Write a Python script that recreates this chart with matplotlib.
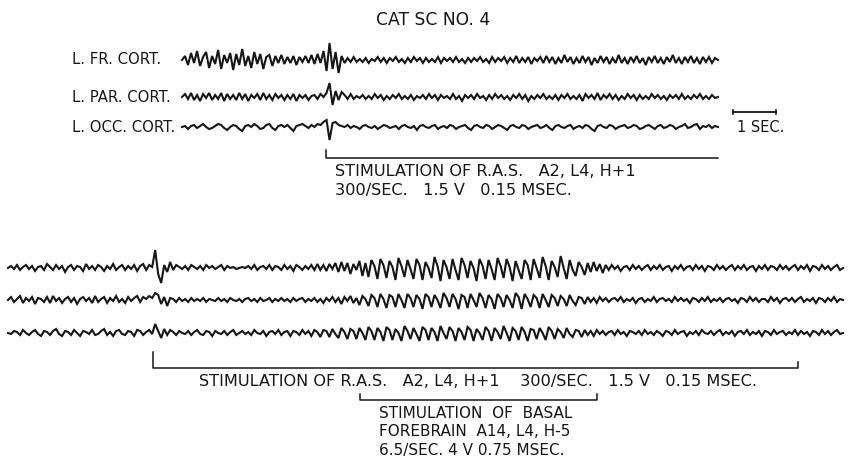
import numpy as np
import matplotlib as mpl
mpl.use('Agg')
import matplotlib.pyplot as plt

# EEG amplitudes (positive = upward deflection), one sample every ~3 px
fr_cort = [0, 4, -5, 7, -3, 9, -6, 3, 8, -8, 4, -4, 10, -9, 5, -3, 7, -10, 6, -5,
           11, -6, 4, -8, 8, -4, 6, -9, 3, 5, -6, 4, -3, 5, -4, 3, -3, 4, -5, 3,
           -2, 4, -3, 5, -4, 6, -3, 9, -11, 17, -9, 8, -13, 4, -3, 2, -2, 3, -2, 1,
           -2, 2, -3, 1, -1, 3, -2, 2, -3, 2, -1, 3, -2, 1, -3, 2, -2, 3, -1, 2,
           -3, 2, -2, 1, -2, 3, -3, 2, -1, 2, -2, 3, -2, 1, -3, 2, -2, 2, -1, 3,
           -2, 1, -3, 3, -2, 2, -1, 3, -3, 2, -2, 4, -3, 2, -2, 3, -4, 2, -1, 3,
           -3, 4, -2, 3, -4, 2, -3, 5, -2, 3, -4, 2, -3, 4, -2, 3, -5, 2, -3, 4,
           -2, 3, -4, 2, -3, 5, -3, 2, -4, 3, -2, 4, -3, 2, -5, 3, -2, 4, -3, 2,
           -4, 3, -2, 5, -3, 2, -4, 3, -2, 4, -3, 2, -4, 3, -2, 3, -3, 2, 0]
par_cort = [0, 3, -2, 4, -3, 2, -4, 3, -1, 4, -3, 2, -2, 4, -4, 3, -2, 2, -3, 4,
            -2, 3, -4, 2, -1, 3, -3, 4, -2, 2, -3, 3, -1, 2, -3, 2, -2, 3, -4, 2,
            -1, 2, -3, 1, 2, -2, 3, 0, 4, 14, -8, 6, -3, 5, 2, -2, 3, -2, 1, -1,
            2, -2, 1, -2, 3, -1, 2, -3, 1, -2, 2, -1, 3, -2, 1, -2, 2, -3, 1, -1,
            2, -2, 3, -1, 2, -3, 2, -1, 1, -2, 3, -2, 1, -4, 2, -1, 2, -2, 3, -1,
            1, -3, 2, -2, 3, -1, 2, -2, 1, -3, 2, -1, 3, -2, 2, -4, 1, -2, 2, -1,
            3, -2, 1, -2, 2, -3, 2, -1, 3, -2, 1, -2, 2, -4, 3, -1, 2, -2, 4, -3,
            2, -1, 3, -2, 2, -3, 1, -2, 3, -1, 2, -3, 2, -2, 1, -2, 3, -1, 2, -2,
            1, -3, 2, -1, 2, -2, 3, -2, 1, -2, 2, -1, 3, -2, 1, -2, 2, -1, 0]
occ_cort = [0, 1, -2, 1, 2, -1, 1, 3, 0, -2, -1, 1, 3, 2, -1, -3, 0, 2, 1, -2,
            -4, 1, 2, 0, 3, 1, -2, -1, 2, 3, -1, -3, 1, 2, 0, 2, -1, -4, 1, 2,
            3, 1, -1, 2, 0, 3, 2, 5, 7, -13, 4, 5, 2, 1, 0, 2, -1, 1, 0, -2,
            1, 2, 0, -1, 1, -2, 0, 2, 1, -1, 0, 1, -2, 1, 2, 0, -1, 1, -3, 1,
            2, 0, -1, 1, 2, -2, 0, 1, -1, 2, 1, -2, 0, 1, 2, -1, -3, 1, 2, 0,
            -1, 2, 1, -2, 0, 2, 1, -1, -3, 1, 2, 0, -1, 2, 1, -2, 0, 1, 2, -1,
            0, 2, -1, -3, 1, 2, 0, -1, 1, 2, -2, 0, 1, -1, 2, 1, -2, -4, 1, 2,
            0, -1, 2, 1, -2, 0, 1, 2, -1, 0, 2, 1, -2, -1, 1, 2, 0, -2, 1, 2,
            -1, 0, 2, 1, -2, 0, 1, 3, -1, 0, 2, 3, -2, 1, 0, 2, -1, 1, 0]

# second record: R.A.S. stimulation with basal forebrain stimulation on top
fr_2 = [0, 2, -1, 3, -2, 1, 3, -1, 2, -3, 1, 2, -2, 4, 1, -2, 3, -1, 2, -4,
        1, 3, -2, 2, 1, -3, 4, -1, 2, -2, 3, 1, -3, 2, -1, 4, -2, 1, 3, -2,
        2, -1, 3, -3, 2, 4, -2, 3, 1,
        18, -6, -15, 3, -4, 6, -2, 3, 1, -1, 2,
        -2, 3, 1, -1, 2, -2, 3, 0, 2, -1, 1, 3, -2, 2, 0, 1, -1, 0, 1, 0,
        2, -1, 3, -2, 1, 2, -1, 3, -2, 2, 1, -2, 3, -1, 2, -3, 3, 1, -2, 2,
        -1, 3, -2, 4, -2, 3, -3, 4, -1, 5,
        -4, 6, -3, 5, -6, 4, -2, 7, -8, 5,
        -9, 8, 2, -11, 9, 3, -10, 7, 1, -12, 10, 2, -9, 8, -1, -11, 9, 3, -12, 6,
        0, -10, 11, 2, -13, 8, 1, -11, 9, -2, -12, 10, 3, -10, 7, 0, -13, 9, 2, -11,
        8, -1, -12, 10, 2, -10, 9, 1, -13, 7, -2, -11, 8, 3, -12, 9, 0, -10, 11, 2,
        -12, 7, 1, -9, 12, 0, -11, 8, -2, -8, 6, 1, -7, 5, -4, 6, -3, 4, -5, 3,
        -2, 3, -1, 2, -3, 1, 2, -2, 3, -1, 2, -2, 1, 3, -2, 2, -1, 3, -2, 1,
        2, -3, 2, -1, 3, -2, 1, 2, -2, 3, -1, 2, -3, 2, 1, -2, 3, -1, 2, -2,
        1, 3, -2, 2, -1, 3, -2, 1, 2, -3, 2, -1, 3, -2, 2, 1, -2, 3, -1, 2,
        -2, 1, 3, -2, 2, -1, 3, -3, 2, 1, -2, 3, -1, 2, -2, 1, 3, -2, 0]
par_2 = [0, 3, -2, 1, 4, -3, 2, -1, 3, -4, 2, 1, -2, 3, -3, 4, -1, 2, -3, 1,
         3, -2, 2, -4, 1, 3, -1, 2, -3, 4, -2, 1, 3, -3, 2, -1, 4, -2, 1, -3,
         3, -1, 2, 4, -2, 3, 1, 4, 2,
         7, 5, -4, 3, -6, 2, 1, -2, 2, -1, 1,
         -2, 2, -1, 1, -1, 2, -2, 1, 0, -1, 2, -1, 1, -2, 2, 0, -1, 1, -2, 1,
         2, -1, 1, -2, 2, -1, 0, 2, -2, 1, -1, 2, -1, 1, -2, 2, -1, 1, 2, -2,
         1, -1, 2, -2, 1, -3, 2, -1, 3, -2,
         2, -4, 3, -1, 4, -3, 2, -5, 4, 1,
         -6, 5, 2, -7, 6, 1, -8, 5, 3, -7, 6, 0, -8, 6, 2, -7, 5, 1, -9, 6,
         3, -7, 5, 0, -8, 7, 2, -7, 6, 1, -9, 5, 3, -8, 6, 0, -7, 7, 2, -8,
         5, 1, -9, 6, 2, -7, 5, 0, -8, 7, 3, -9, 6, 1, -7, 5, 2, -8, 6, 0,
         -7, 5, 2, -6, 4, 1, -6, 5, -1, -5, 3, 2, -4, 3, -2, 2, -3, 3, -1, 2,
         -2, 1, 2, -1, 3, -2, 1, -1, 2, -3, 1, 2, -2, 1, -1, 3, -2, 1, 2, -1,
         1, -2, 3, -1, 2, -1, 1, -3, 2, 1, -2, 2, -1, 3, -2, 1, -1, 2, -2, 1,
         2, -1, 1, -3, 2, 1, -2, 3, -1, 2, -2, 1, 1, -2, 3, -1, 2, -3, 1, 2,
         -1, 2, -2, 1, 3, -2, 1, -1, 2, -3, 2, 1, -2, 2, -1, 3, -2, 1, 0]
occ_2 = [0, -1, 2, 1, -2, 3, 0, -2, 1, 3, -1, -3, 2, 1, -2, 2, 4, -1, -3, 2,
         1, -2, 3, 0, -3, 2, 1, -1, 3, -2, -1, 2, 4, -2, 1, -3, 2, 3, -1, -2,
         2, 1, -3, 3, 2, -2, 1, 3, -1,
         9, 2, -5, 4, -2, 3, 1, -2, 2, 0, -1,
         2, -2, 1, 3, -1, -2, 2, 1, -3, 2, 0, -1, 2, -2, 1, 3, -2, 0, 2, -1,
         1, -2, 3, 0, -1, 2, -3, 1, 2, -1, 3, -2, 1, 2, -3, 2, 1, -2, 3, -1,
         2, -3, 3, 1, -4, 3, 2, -4, 4, -1,
         -5, 5, 1, -6, 4, 2, -6, 5, 0, -7,
         6, 2, -7, 5, 1, -8, 6, 3, -7, 4, 0, -8, 7, 2, -6, 5, -1, -8, 6, 3,
         -7, 5, 1, -8, 7, 0, -6, 6, 2, -8, 5, 1, -7, 6, 3, -8, 4, 0, -7, 6,
         2, -8, 5, 1, -6, 7, 0, -8, 5, 2, -7, 6, 1, -8, 4, 3, -6, 5, 0, -7,
         6, 2, -6, 4, 1, -5, 5, -1, -4, 3, 2, -4, 3, -2, 2, -3, 3, -1, 2, -2,
         1, 2, -2, 3, -1, 1, -3, 2, 1, -1, 2, -2, 3, -1, 1, -2, 2, 0, -3, 2,
         1, -2, 3, -1, 1, 2, -3, 1, -1, 2, -2, 3, 0, -1, 2, -2, 1, 3, -2, 1,
         -1, 2, -3, 1, 2, -1, 3, -2, 1, -1, 2, -3, 2, 1, -2, 3, -1, 1, 2, -2,
         1, -1, 3, -2, 2, -1, 1, -3, 2, 1, -2, 3, -1, 2, -2, 1, 3, -1, 0]

top_labels = ['L. FR. CORT.', 'L. PAR. CORT.', 'L. OCC. CORT.']
top_traces = [fr_cort, par_cort, occ_cort]
bottom_traces = [fr_2, par_2, occ_2]

title = 'CAT SC NO. 4'
stim_ras = 'STIMULATION OF R.A.S.   A2, L4, H+1'
stim_ras_params = '300/SEC.   1.5 V   0.15 MSEC.'
stim_ras_long = 'STIMULATION OF R.A.S.   A2, L4, H+1    300/SEC.   1.5 V   0.15 MSEC.'
stim_basal = ['STIMULATION  OF  BASAL', 'FOREBRAIN  A14, L4, H-5', '6.5/SEC. 4 V 0.75 MSEC.']

W, H = 848, 459
ink = '#161616'
plt.rcParams['font.family'] = ['DejaVu Sans']

fig = plt.figure(figsize=(W / 100, H / 100), dpi=100)
ax = fig.add_axes([0, 0, 1, 1])
ax.set_xlim(0, W)
ax.set_ylim(H, 0)
ax.axis('off')


def trace(vals, x0, x1, y0):
    v = np.asarray(vals, dtype=float)
    xs = np.linspace(x0, x1, len(v))
    ax.plot(xs, y0 - v, color=ink, linewidth=1.5, solid_joinstyle='miter')


ax.text(433, 20, title, ha='center', va='center', fontsize=12.3, color=ink)

# upper record
for lab, vals, y0 in zip(top_labels, top_traces, [60, 97, 127]):
    trace(vals, 182, 718, y0)
    ax.text(72, y0, lab, ha='left', va='center', fontsize=10.7, color=ink)

# 1 sec calibration
sec_px = 43
ax.plot([733, 733 + sec_px], [112, 112], color=ink, linewidth=1.3)
ax.plot([733, 733], [110, 114], color=ink, linewidth=1.2)
ax.plot([733 + sec_px, 733 + sec_px], [110, 114], color=ink, linewidth=1.2)
ax.text(737, 127, '1 SEC.', ha='left', va='center', fontsize=10.5, color=ink)

ax.plot([326, 326, 718], [150, 158, 158], color=ink, linewidth=1.1)
ax.text(335, 172, stim_ras, ha='left', va='center', fontsize=11.6, color=ink)
ax.text(335, 191, stim_ras_params, ha='left', va='center', fontsize=11.6, color=ink)

# lower record
for vals, y0 in zip(bottom_traces, [268, 300, 333]):
    trace(vals, 8, 843, y0)

ax.plot([153, 153, 798, 798], [352, 368, 368, 362], color=ink, linewidth=1.1)
ax.text(199, 381, stim_ras_long, ha='left', va='center', fontsize=11.6, color=ink)

ax.plot([360, 360, 597, 597], [394, 400, 400, 394], color=ink, linewidth=1.1)
for k, line in enumerate(stim_basal):
    ax.text(379, 413 + 19 * k, line, ha='left', va='center', fontsize=11, color=ink)

fig.savefig('out.png', dpi=100, facecolor='white')
